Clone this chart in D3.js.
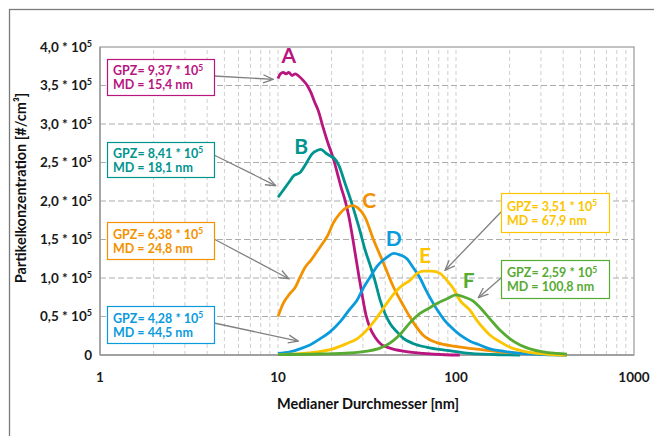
<!DOCTYPE html>
<html>
<head>
<meta charset="utf-8">
<script src="https://cdn.jsdelivr.net/npm/d3@7"></script>
<style>
  body { margin: 0; background: #fff; }
  svg { display: block; font-family: Lato, "Open Sans", sans-serif; }
</style>
</head>
<body>
<div id="chart"></div>
<script>
'use strict'

// Size distributions: median diameter [nm] vs. concentration [1e5 #/cm3]
const diamA = [10, 10.3, 10.7, 11.1, 11.5, 12.0, 12.5, 13.1, 13.8, 14.6, 15.3, 16.1, 16.8, 17.9, 19.1, 20.4, 21.5, 22.6, 23.8, 25.1, 26.4, 27.4, 28.5, 29.7, 31.2, 32.9, 35.1, 37.9, 42.6, 50.4, 65.2, 86.8, 105];
const concA = [3.59, 3.65, 3.67, 3.65, 3.67, 3.63, 3.65, 3.62, 3.57, 3.50, 3.41, 3.28, 3.18, 2.96, 2.75, 2.56, 2.37, 2.18, 2.01, 1.78, 1.49, 1.26, 1.02, 0.78, 0.52, 0.35, 0.23, 0.14, 0.09, 0.05, 0.02, 0.003, 0];

const diamB = [10, 10.7, 11.5, 12.3, 13.3, 14.5, 15.5, 16.7, 17.4, 18.6, 19.8, 20.6, 22.0, 23.8, 25.4, 27.1, 28.9, 30.8, 32.9, 35.1, 37.4, 39.9, 42.6, 46.6, 50.4, 57.3, 68.7, 89.0, 120, 177, 229];
const concB = [2.05, 2.14, 2.24, 2.33, 2.37, 2.50, 2.61, 2.66, 2.67, 2.62, 2.58, 2.56, 2.46, 2.23, 2.04, 1.83, 1.61, 1.37, 1.17, 0.96, 0.72, 0.54, 0.41, 0.30, 0.22, 0.15, 0.10, 0.06, 0.02, 0.003, 0];

const diamC = [10, 10.7, 11.7, 12.5, 13.3, 14.2, 15.3, 17.2, 19.1, 20.4, 22.3, 24.4, 26.4, 28.1, 30.8, 34.5, 39.2, 44.6, 50.4, 57.3, 65.2, 78.2, 101.5, 131.7, 201, 297, 420];
const concC = [0.50, 0.67, 0.80, 0.88, 1.01, 1.14, 1.23, 1.40, 1.56, 1.71, 1.84, 1.92, 1.94, 1.91, 1.79, 1.49, 1.19, 0.88, 0.65, 0.43, 0.26, 0.16, 0.11, 0.075, 0.03, 0.01, 0];

const diamD = [10, 11.7, 13.3, 15.1, 17.2, 19.6, 22.3, 25.4, 27.8, 30.0, 32.9, 36.0, 38.4, 41.0, 44.6, 48.4, 53.0, 57.3, 62.8, 67.9, 73.3, 79.2, 85.6, 95.0, 105.3, 120, 136, 155, 184, 229, 285, 420];
const concD = [0.02, 0.04, 0.08, 0.13, 0.21, 0.30, 0.43, 0.60, 0.71, 0.86, 1.01, 1.15, 1.22, 1.27, 1.32, 1.30, 1.25, 1.14, 1.00, 0.84, 0.70, 0.57, 0.46, 0.35, 0.26, 0.18, 0.13, 0.08, 0.05, 0.02, 0.01, 0];

const diamE = [10, 13.3, 16.6, 20.4, 24.4, 27.8, 30.8, 34.5, 38.4, 42.6, 46.6, 50.4, 55.2, 60.4, 65.2, 73.3, 81.3, 89.0, 96.2, 105.3, 120, 131, 142, 155, 177, 201, 238, 285, 351, 420];
const concE = [0.005, 0.016, 0.04, 0.08, 0.15, 0.21, 0.30, 0.43, 0.58, 0.73, 0.84, 0.91, 0.97, 1.06, 1.09, 1.09, 1.06, 0.97, 0.87, 0.71, 0.58, 0.45, 0.35, 0.26, 0.17, 0.10, 0.05, 0.02, 0.005, 0];

const diamF = [10, 17.2, 25.4, 31.6, 37.4, 40.8, 44.6, 49.5, 55.2, 62.8, 69.6, 78.2, 89.0, 100, 112, 125, 136, 155, 177, 201, 229, 260, 308, 369, 420];
const concF = [0.005, 0.013, 0.026, 0.05, 0.09, 0.13, 0.19, 0.29, 0.42, 0.54, 0.60, 0.67, 0.73, 0.78, 0.75, 0.70, 0.62, 0.47, 0.32, 0.21, 0.13, 0.08, 0.04, 0.02, 0.01];

const seriesNames = ['A', 'B', 'C', 'D', 'E', 'F'];
const seriesColors = ['#b8157f', '#00948f', '#f39200', '#0a9bdc', '#fdc500', '#57ab33'];
const gpzLabels = ['9,37', '8,41', '6,38', '4,28', '3,51', '2,59'];
const mdLabels = ['15,4', '18,1', '24,8', '44,5', '67,9', '100,8'];

// curve letter anchor [nm, 1e5]
const letterDiam = [11.5, 13.5, 32.5, 44.7, 66.9, 117.8];
const letterConc = [3.79, 2.61, 1.905, 1.41, 1.20, 0.866];
// arrow tips [nm, 1e5]
const tipDiam = [9.4, 9.7, 11.5, 13.0, 86.8, 133.5];
const tipConc = [3.58, 2.20, 0.99, 0.18, 1.10, 0.745];

const yTicks = [0, 0.5, 1, 1.5, 2, 2.5, 3, 3.5, 4];
const yTickLabels = ['0', '0,5', '1,0', '1,5', '2,0', '2,5', '3,0', '3,5', '4,0'];
const xTicks = [1, 10, 100, 1000];

const width = 654, height = 436;
const margin = {top: 47, right: 20, bottom: 81, left: 100};

const svg = d3.select('#chart').append('svg')
    .attr('width', width)
    .attr('height', height);

svg.append('rect').attr('width', width).attr('height', height).attr('fill', '#fff');

// outer frame (runs off the picture right and bottom)
svg.append('rect')
    .attr('x', 9.5).attr('y', 9.5)
    .attr('width', 700).attr('height', 500)
    .attr('fill', 'none')
    .attr('stroke', '#7a7a7a')
    .attr('stroke-width', 1.3);

let x = d3.scaleLog()
    .domain([1, 1000])
    .range([margin.left, width - margin.right]);

let y = d3.scaleLinear()
    .domain([0, 4])
    .range([height - margin.bottom, margin.top]);

// vertical minor grid
let minor = [];
[1, 10, 100].forEach(dec => {
    for (let k = 2; k <= 10; k++) minor.push(k * dec);
});
minor = minor.filter(v => v < 1000);

svg.append('g')
    .selectAll('line')
    .data(minor)
    .join('line')
        .attr('x1', d => x(d)).attr('x2', d => x(d))
        .attr('y1', y(0)).attr('y2', y(4))
        .attr('stroke', '#cfcfcf')
        .attr('stroke-width', 1)
        .attr('stroke-dasharray', '4,3');

// horizontal grid
svg.append('g')
    .selectAll('line')
    .data(yTicks.filter(v => v > 0 && v < 4))
    .join('line')
        .attr('x1', x(1)).attr('x2', x(1000))
        .attr('y1', d => y(d)).attr('y2', d => y(d))
        .attr('stroke', '#ababab')
        .attr('stroke-width', 1.2)
        .attr('stroke-dasharray', '6,3');

// plot border
svg.append('rect')
    .attr('x', x(1)).attr('y', y(4))
    .attr('width', x(1000) - x(1)).attr('height', y(0) - y(4))
    .attr('fill', 'none')
    .attr('stroke', '#9a9a9a')
    .attr('stroke-width', 1.2);

svg.append('line')
    .attr('x1', x(1)).attr('x2', x(1000))
    .attr('y1', y(0)).attr('y2', y(0))
    .attr('stroke', '#a0a0a0').attr('stroke-width', 2);
svg.append('line')
    .attr('x1', x(1)).attr('x2', x(1))
    .attr('y1', y(0)).attr('y2', y(4))
    .attr('stroke', '#a0a0a0').attr('stroke-width', 1.6);

// y tick labels
let yLab = svg.append('g')
    .selectAll('text')
    .data(yTicks)
    .join('text')
        .attr('x', 92)
        .attr('y', d => y(d) + 4.5)
        .attr('text-anchor', 'end')
        .attr('font-size', 13.5)
        .attr('font-weight', 700)
        .attr('fill', '#1a1a1a');

yLab.each(function(d, i) {
    let t = d3.select(this);
    if (d === 0) { t.text('0'); return; }
    t.append('tspan').text(yTickLabels[i] + ' * 10');
    t.append('tspan').attr('dy', -5).attr('font-size', 9).text('5');
});

// x tick labels
svg.append('g')
    .selectAll('text')
    .data(xTicks)
    .join('text')
        .attr('x', d => x(d))
        .attr('y', y(0) + 27)
        .attr('text-anchor', 'middle')
        .attr('font-size', 13.5)
        .attr('font-weight', 700)
        .attr('fill', '#1a1a1a')
        .text(d => d);

// axis titles
svg.append('text')
    .attr('x', (x(1) + x(1000)) / 2 + 1)
    .attr('y', 409)
    .attr('text-anchor', 'middle')
    .attr('font-size', 14.5)
    .attr('font-weight', 700)
    .attr('fill', '#111')
    .text('Medianer Durchmesser [nm]');

svg.append('text')
    .attr('transform', `translate(26, 188) rotate(-90)`)
    .attr('text-anchor', 'middle')
    .attr('font-size', 14.5)
    .attr('font-weight', 700)
    .attr('fill', '#111')
    .text('Partikelkonzentration [#/cm³]');

// curves
const diams = [diamA, diamB, diamC, diamD, diamE, diamF];
const concs = [concA, concB, concC, concD, concE, concF];

let line = d3.line()
    .x(d => x(d[0]))
    .y(d => y(d[1]))
    .curve(d3.curveMonotoneX);

svg.append('g')
    .selectAll('path')
    .data(seriesNames)
    .join('path')
        .attr('d', (d, i) => line(d3.zip(diams[i], concs[i])))
        .attr('fill', 'none')
        .attr('stroke', (d, i) => seriesColors[i])
        .attr('stroke-width', 2.8)
        .attr('stroke-linejoin', 'round');

// curve letters
svg.append('g')
    .selectAll('text')
    .data(seriesNames)
    .join('text')
        .attr('x', (d, i) => x(letterDiam[i]))
        .attr('y', (d, i) => y(letterConc[i]))
        .attr('text-anchor', 'middle')
        .attr('font-size', 21)
        .attr('font-weight', 700)
        .attr('fill', (d, i) => seriesColors[i])
        .text(d => d);

// annotation boxes
const boxes = [
    {x: 107, y: 59,  w: 107, h: 36, ax: 214, ay: 76},
    {x: 107, y: 142, w: 107, h: 35, ax: 214, ay: 155},
    {x: 107, y: 222, w: 107, h: 37, ax: 214, ay: 239},
    {x: 107, y: 306, w: 107, h: 37, ax: 214, ay: 323},
    {x: 501, y: 193, w: 108, h: 39, ax: 501, ay: 212},
    {x: 501, y: 260, w: 108, h: 38, ax: 501, ay: 278}
];

svg.append('defs').append('marker')
    .attr('id', 'arrow')
    .attr('viewBox', '0 0 12 10')
    .attr('refX', 11).attr('refY', 5)
    .attr('markerWidth', 12).attr('markerHeight', 10)
    .attr('markerUnits', 'userSpaceOnUse')
    .attr('orient', 'auto')
  .append('path')
    .attr('d', 'M1,1 L11,5 L1,9')
    .attr('fill', 'none')
    .attr('stroke', '#808080')
    .attr('stroke-width', 1.3);

let notes = svg.append('g')
    .selectAll('g')
    .data(seriesNames)
    .join('g');

notes.append('line')
    .attr('x1', (d, i) => boxes[i].ax)
    .attr('y1', (d, i) => boxes[i].ay)
    .attr('x2', (d, i) => x(tipDiam[i]))
    .attr('y2', (d, i) => y(tipConc[i]))
    .attr('stroke', '#808080')
    .attr('stroke-width', 1.3)
    .attr('marker-end', 'url(#arrow)');

notes.append('rect')
    .attr('x', (d, i) => boxes[i].x + 0.5)
    .attr('y', (d, i) => boxes[i].y + 0.5)
    .attr('width', (d, i) => boxes[i].w)
    .attr('height', (d, i) => boxes[i].h)
    .attr('fill', '#fff')
    .attr('stroke', (d, i) => seriesColors[i])
    .attr('stroke-width', 1.2);

notes.each(function(d, i) {
    let g = d3.select(this);
    let b = boxes[i];
    let t1 = g.append('text')
        .attr('x', b.x + 6)
        .attr('y', b.y + b.h / 2 - 2)
        .attr('font-size', 12.5)
        .attr('font-weight', 700)
        .attr('fill', seriesColors[i]);
    t1.append('tspan').text('GPZ= ' + gpzLabels[i] + ' * 10');
    t1.append('tspan').attr('dy', -4.5).attr('font-size', 8.5).text('5');
    g.append('text')
        .attr('x', b.x + 6)
        .attr('y', b.y + b.h / 2 + 12)
        .attr('font-size', 12.5)
        .attr('font-weight', 700)
        .attr('fill', seriesColors[i])
        .text('MD = ' + mdLabels[i] + ' nm');
});
</script>
</body>
</html>
